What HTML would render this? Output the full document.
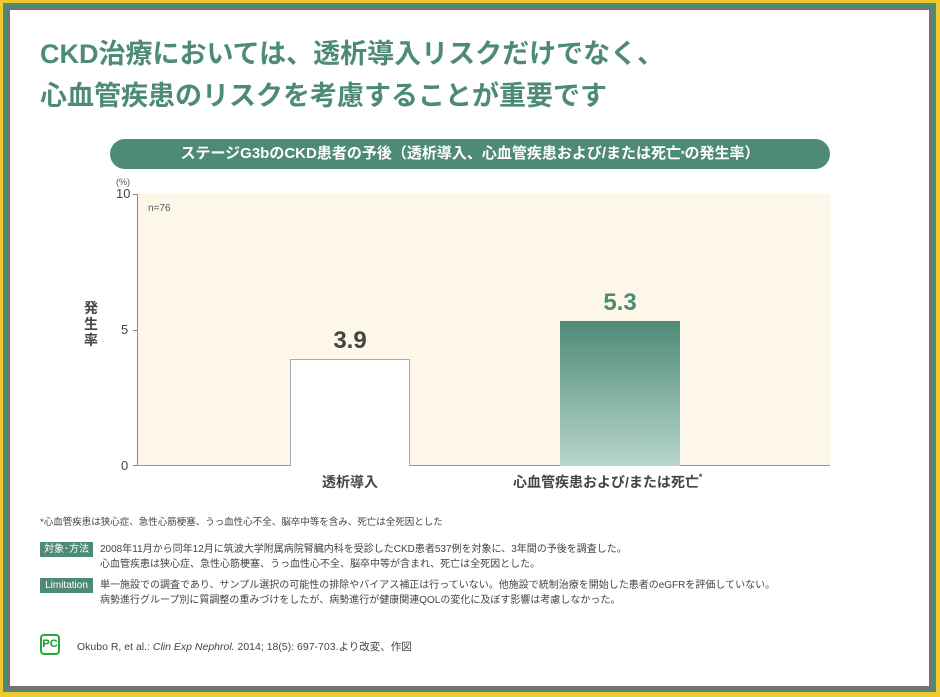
<!DOCTYPE html>
<html><head><meta charset="utf-8"><style>
*{margin:0;padding:0;box-sizing:border-box}
body{width:940px;height:697px;background:#f2c82f;position:relative;overflow:hidden;font-family:"Liberation Sans","Noto Sans CJK JP",sans-serif}
.a{position:absolute;white-space:nowrap}
</style></head><body>
<div class="a" style="left:3px;top:3px;width:933px;height:689px;background:#4e8a78"></div>
<div class="a" style="left:7px;top:7px;width:925px;height:682px;background:#7a7072"></div>
<div class="a" style="left:10px;top:10px;width:919px;height:676px;background:#fff"></div>

<div class="a" style="left:40px;top:33px;font-size:27px;font-weight:600;color:#4e8a78;line-height:42px">CKD治療においては、透析導入リスクだけでなく、<br>心血管疾患のリスクを考慮することが重要です</div>

<div class="a" style="left:110px;top:139px;width:720px;height:30px;background:#4e8a78;border-radius:15px;color:#fff;font-size:15px;font-weight:bold;text-align:center;line-height:30px">ステージG3bのCKD患者の予後（透析導入、心血管疾患および/または死亡<span style="font-size:9px;vertical-align:top">*</span>の発生率）</div>

<div class="a" style="left:138px;top:194px;width:692px;height:272px;background:#fdf7e9"></div>
<div class="a" style="left:137px;top:194px;width:1px;height:272px;background:#888"></div>
<div class="a" style="left:137px;top:465px;width:693px;height:1px;background:#999"></div>
<div class="a" style="left:133px;top:194px;width:4px;height:1px;background:#888"></div>
<div class="a" style="left:133px;top:330px;width:4px;height:1px;background:#888"></div>
<div class="a" style="left:133px;top:465px;width:4px;height:1px;background:#888"></div>
<div class="a" style="left:116px;top:177px;font-size:9px;color:#555">(%)</div>
<div class="a" style="left:116px;top:186px;font-size:13px;color:#444">10</div>
<div class="a" style="left:121px;top:322px;font-size:13px;color:#444">5</div>
<div class="a" style="left:121px;top:458px;font-size:13px;color:#444">0</div>
<div class="a" style="left:84px;top:300px;width:16px;font-size:14px;font-weight:bold;color:#444;white-space:normal;line-height:16px">発生率</div>
<div class="a" style="left:148px;top:203px;font-size:10px;color:#555">n=76</div>

<div class="a" style="left:290px;top:359px;width:120px;height:107px;background:#fff;border:1px solid #aaa;border-bottom:none"></div>
<div class="a" style="left:290px;top:327px;width:120px;text-align:center;font-size:24px;font-weight:bold;color:#444">3.9</div>
<div class="a" style="left:560px;top:321px;width:120px;height:145px;background:linear-gradient(#4e8a78,#b8d6cd)"></div>
<div class="a" style="left:560px;top:289px;width:120px;text-align:center;font-size:24px;font-weight:bold;color:#4e8a78">5.3</div>

<div class="a" style="left:290px;top:472px;width:120px;text-align:center;font-size:14px;font-weight:bold;color:#444">透析導入</div>
<div class="a" style="left:513px;top:472px;font-size:14px;font-weight:bold;color:#444">心血管疾患および/または死亡<span style="font-size:9px;vertical-align:top">*</span></div>

<div class="a" style="left:40px;top:514px;font-size:9.5px;color:#444">*心血管疾患は狭心症、急性心筋梗塞、うっ血性心不全、脳卒中等を含み、死亡は全死因とした</div>

<div class="a" style="left:40px;top:542px;width:53px;height:15px;background:#4e8a78;color:#fff;font-size:10px;text-align:center;line-height:15px">対象･方法</div>
<div class="a" style="left:100px;top:542px;font-size:10px;color:#444;line-height:15px">2008年11月から同年12月に筑波大学附属病院腎臓内科を受診したCKD患者537例を対象に、3年間の予後を調査した。<br>心血管疾患は狭心症、急性心筋梗塞、うっ血性心不全、脳卒中等が含まれ、死亡は全死因とした。</div>
<div class="a" style="left:40px;top:578px;width:53px;height:15px;background:#4e8a78;color:#fff;font-size:10px;text-align:center;line-height:15px">Limitation</div>
<div class="a" style="left:100px;top:578px;font-size:10px;color:#444;line-height:15px">単一施設での調査であり、サンプル選択の可能性の排除やバイアス補正は行っていない。他施設で統制治療を開始した患者のeGFRを評価していない。<br>病勢進行グループ別に質調整の重みづけをしたが、病勢進行が健康関連QOLの変化に及ぼす影響は考慮しなかった。</div>

<div class="a" style="left:40px;top:634px;width:20px;height:21px;border:2px solid #22aa33;border-radius:4px;color:#119922;font-size:11px;font-weight:bold;text-align:center;line-height:17px">PC</div>
<div class="a" style="left:77px;top:639px;font-size:10.5px;color:#444">Okubo R, et al.: <i>Clin Exp Nephrol.</i> 2014; 18(5): 697-703.より改変、作図</div>
</body></html>
